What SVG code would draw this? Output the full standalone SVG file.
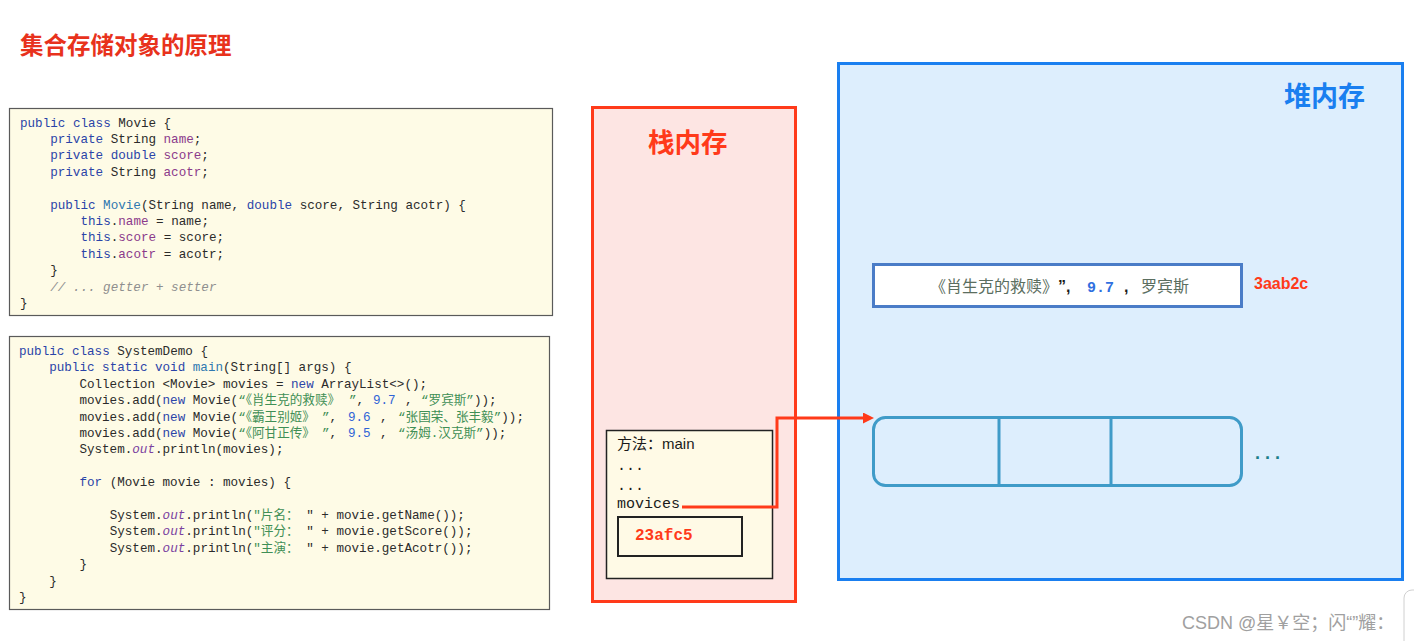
<svg xmlns="http://www.w3.org/2000/svg" width="1414" height="641" viewBox="0 0 1414 641">
<style>
.code{font-family:"Liberation Mono","Noto Sans CJK SC",monospace;font-size:12.6px;fill:#2b2b2b}
.kw{fill:#2a44a8}
.fn{fill:#2f78b0}
.fld{fill:#8b3a8b}
.cm{fill:#8f8f8f;font-style:italic}
.str{fill:#3f8f55}
.num{fill:#2e63d6}
.out{fill:#7b3fa0;font-style:italic}
.codebox{fill:#fefbe6;stroke:#5a5a5a;stroke-width:1.2}
.title{font-family:"Noto Sans CJK SC",sans-serif;font-weight:700}
.red{fill:#ff3a1a}
.frame{font-family:"Liberation Mono","Noto Sans CJK SC",monospace;font-size:15px;fill:#1a1a1a}
.conn{fill:none;stroke:#ff3a1a;stroke-width:3}
</style>
<defs>
<marker id="arr" viewBox="0 0 10 10" refX="0" refY="5" markerWidth="11" markerHeight="11" orient="auto" markerUnits="userSpaceOnUse">
<path d="M0,0 L10,5 L0,10 z" fill="#ff3a1a"/>
</marker>
</defs>
<rect width="1414" height="641" fill="#ffffff"/>

<g id="title">
<text class="title" x="20" y="54" font-size="23.5" fill="#e8321c">集合存储对象的原理</text>
</g>

<g id="code-movie">
<rect class="codebox" x="9.5" y="108.5" width="543" height="207"/>
<text class="code" xml:space="preserve" x="20" y="126.5"><tspan class="kw">public class</tspan> Movie {</text>
<text class="code" xml:space="preserve" x="50.2" y="142.9"><tspan class="kw">private</tspan> String <tspan class="fld">name</tspan>;</text>
<text class="code" xml:space="preserve" x="50.2" y="159.3"><tspan class="kw">private double</tspan> <tspan class="fld">score</tspan>;</text>
<text class="code" xml:space="preserve" x="50.2" y="175.7"><tspan class="kw">private</tspan> String <tspan class="fld">acotr</tspan>;</text>
<text class="code" xml:space="preserve" x="50.2" y="208.5"><tspan class="kw">public</tspan> <tspan class="fn">Movie</tspan>(String name, <tspan class="kw">double</tspan> score, String acotr) {</text>
<text class="code" xml:space="preserve" x="80.5" y="224.9"><tspan class="kw">this</tspan>.<tspan class="fld">name</tspan> = name;</text>
<text class="code" xml:space="preserve" x="80.5" y="241.3"><tspan class="kw">this</tspan>.<tspan class="fld">score</tspan> = score;</text>
<text class="code" xml:space="preserve" x="80.5" y="257.7"><tspan class="kw">this</tspan>.<tspan class="fld">acotr</tspan> = acotr;</text>
<text class="code" x="50.2" y="274.1">}</text>
<text class="code cm" xml:space="preserve" x="50.2" y="290.5">// ... getter + setter</text>
<text class="code" x="20" y="306.9">}</text>
</g>

<g id="code-systemdemo">
<rect class="codebox" x="9.5" y="336.5" width="540" height="273"/>
<text class="code" xml:space="preserve" x="19" y="355"><tspan class="kw">public class</tspan> SystemDemo {</text>
<text class="code" xml:space="preserve" x="49.2" y="371.4"><tspan class="kw">public static void</tspan> <tspan class="fn">main</tspan>(String[] args) {</text>
<text class="code" xml:space="preserve" x="79.4" y="387.8">Collection &lt;Movie&gt; movies = <tspan class="kw">new</tspan> ArrayList&lt;&gt;();</text>
<text class="code" xml:space="preserve" x="79.4" y="404.2">movies.add(<tspan class="kw">new</tspan> Movie(<tspan class="str">“《肖生克的救赎》</tspan><tspan class="str" x="349">”</tspan><tspan>,</tspan><tspan class="num" x="373">9.7</tspan><tspan x="405">,</tspan><tspan class="str" x="421">“罗宾斯”</tspan>));</text>
<text class="code" xml:space="preserve" x="79.4" y="420.6">movies.add(<tspan class="kw">new</tspan> Movie(<tspan class="str">“《霸王别姬》</tspan><tspan class="str" x="322">”</tspan><tspan>,</tspan><tspan class="num" x="348">9.6</tspan><tspan x="380">,</tspan><tspan class="str" x="398">“张国荣、张丰毅”</tspan>));</text>
<text class="code" xml:space="preserve" x="79.4" y="437">movies.add(<tspan class="kw">new</tspan> Movie(<tspan class="str">“《阿甘正传》</tspan><tspan class="str" x="322">”</tspan><tspan>,</tspan><tspan class="num" x="348">9.5</tspan><tspan x="380">,</tspan><tspan class="str" x="398">“汤姆.汉克斯”</tspan>));</text>
<text class="code" xml:space="preserve" x="79.4" y="453.4">System.<tspan class="out">out</tspan>.println(movies);</text>
<text class="code" xml:space="preserve" x="79.4" y="486.2"><tspan class="kw">for</tspan> (Movie movie : movies) {</text>
<text class="code" xml:space="preserve" x="109.7" y="519">System.<tspan class="out">out</tspan>.println(<tspan class="str">"片名：</tspan> " + movie.getName());</text>
<text class="code" xml:space="preserve" x="109.7" y="535.4">System.<tspan class="out">out</tspan>.println(<tspan class="str">"评分：</tspan> " + movie.getScore());</text>
<text class="code" xml:space="preserve" x="109.7" y="551.8">System.<tspan class="out">out</tspan>.println(<tspan class="str">"主演：</tspan> " + movie.getAcotr());</text>
<text class="code" x="79.4" y="568.2">}</text>
<text class="code" x="49.2" y="584.6">}</text>
<text class="code" x="19" y="601">}</text>
</g>

<g id="stack-memory">
<rect x="592.5" y="107.5" width="203" height="494" fill="#fde5e3" stroke="#ff3a1a" stroke-width="3"/>
<text class="title red" x="648" y="152" font-size="26.5">栈内存</text>
</g>

<g id="main-frame">
<rect x="606.5" y="430.5" width="166" height="148" fill="#fffae6" stroke="#222" stroke-width="1.5"/>
<text x="617" y="449" font-family="Liberation Sans, Noto Sans CJK SC, sans-serif" font-size="15" fill="#1a1a1a">方法：main</text>
<text class="frame" x="617" y="470">...</text>
<text class="frame" x="617" y="490">...</text>
<text class="frame" x="617" y="508">movices</text>
</g>

<g id="address-23afc5">
<rect x="618" y="517" width="124" height="39" fill="#fffae6" stroke="#222" stroke-width="2"/>
<text x="635" y="540" font-family="Liberation Mono, monospace" font-size="16" font-weight="700" fill="#ff3a1a">23afc5</text>
</g>

<g id="heap-memory">
<rect x="838.5" y="63.5" width="564" height="516" fill="#ddeefd" stroke="#1a7ff0" stroke-width="3"/>
<text class="title" x="1284" y="106" font-size="27" fill="#1a7ff0">堆内存</text>
</g>

<g id="movie-object">
<rect x="873.5" y="264.5" width="368" height="42" fill="#ffffff" stroke="#4a7cc7" stroke-width="3"/>
<text x="930" y="292" font-family="Noto Sans CJK SC, sans-serif" font-size="16" fill="#5b6e60">《肖生克的救赎》</text>
<text x="1058" y="292" font-family="Liberation Sans, sans-serif" font-size="16" font-weight="700" fill="#1a1a1a">”,</text>
<text x="1087" y="292" font-family="Liberation Mono, monospace" font-size="15" font-weight="700" fill="#2f6fe0">9.7</text>
<text x="1124" y="292" font-family="Liberation Sans, sans-serif" font-size="16" font-weight="700" fill="#1a1a1a">,</text>
<text x="1141" y="292" font-family="Noto Sans CJK SC, sans-serif" font-size="16" fill="#5b6e60">罗宾斯</text>
<text x="1254" y="289" font-family="Liberation Sans, sans-serif" font-size="16" font-weight="700" fill="#ff3a1a">3aab2c</text>
</g>

<g id="arraylist">
<rect x="873.5" y="417.5" width="368" height="68" rx="12" fill="none" stroke="#3f9bc8" stroke-width="3"/>
<line x1="999" y1="417" x2="999" y2="486" stroke="#3f9bc8" stroke-width="3"/>
<line x1="1111" y1="417" x2="1111" y2="486" stroke="#3f9bc8" stroke-width="3"/>
<text x="1255" y="459" font-family="Liberation Sans, sans-serif" font-size="18" font-weight="700" letter-spacing="5" fill="#1a7f8a">...</text>
</g>

<g id="connectors">
<polyline class="conn" points="682,507 777,507 777,418 863,418" marker-end="url(#arr)"/>
</g>

<g id="watermark">
<text x="1182" y="629" font-family="Liberation Sans, Noto Sans CJK SC, sans-serif" font-size="18" fill="#a0a0a0">CSDN @星￥空；闪“”耀：</text>
<rect x="1404" y="590" width="24" height="64" rx="8" fill="#ffffff" stroke="#d0d0d0" stroke-width="1"/>
</g>
</svg>
